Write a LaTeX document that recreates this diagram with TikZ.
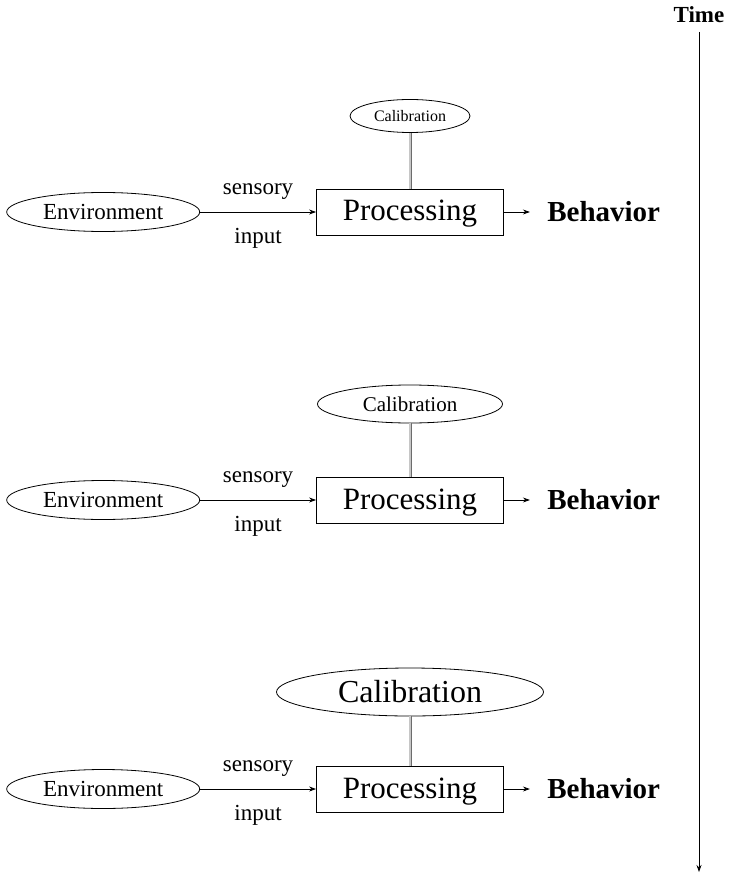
\documentclass[tikz,border=0pt]{standalone}
\usepackage{fontspec}
\setmainfont{Liberation Serif}
\usetikzlibrary{shapes.geometric,arrows.meta,positioning}

\tikzset{
  envnode/.style={ellipse, draw, inner sep=0pt, minimum width=193pt, minimum height=39pt, font=\fontsize{23}{23}\selectfont},
  procnode/.style={rectangle, draw, inner sep=0pt, minimum width=187pt, minimum height=46pt, text height=23pt, text depth=5pt, font=\fontsize{31}{31}\selectfont},
  calnode/.style={ellipse, draw, inner sep=0pt},
  behnode/.style={inner xsep=17pt, font=\fontsize{29}{29}\selectfont\bfseries},
  labnode/.style={font=\fontsize{23}{23}\selectfont},
  flow/.style={-{Stealth[length=7pt,width=5pt]}},
  link/.style={draw=gray!85!black, double=gray!45, double distance=1.2pt, line width=0.9pt},
}

\begin{document}
\begin{tikzpicture}[x=1pt, y=-1pt, line width=0.8pt]
\useasboundingbox (0,0) rectangle (737,874);

% three stages, calibration grows over time
\foreach \n/\y/\cy/\cw/\ch/\cf in {1/212/116/120/33/16, 2/500/404/185/38/21, 3/789/692/267/48/32}{
  \node (proc\n) [procnode] at (410,\y) {Processing};
  \node (env\n) [envnode, left=116pt of proc\n] {Environment};
  \node (beh\n) [behnode, right=26pt of proc\n] {Behavior};
  \node (cal\n) [calnode, minimum width=\cw pt, minimum height=\ch pt, font=\fontsize{\cf}{\cf}\selectfont] at (410,\cy) {Calibration};

  \draw [flow] (env\n) -- node[labnode, above=9pt] {sensory} node[labnode, below=13pt] {input} (proc\n);
  \draw [flow] (proc\n) -- (beh\n);
  \draw [link] (cal\n) -- (proc\n);
}

% time axis
\node (time) [font=\fontsize{23}{23}\selectfont\bfseries] at (699,15) {Time};
\coordinate (tend) at (699,872);
\draw [flow, shorten <=5pt] (time) -- (tend);
\end{tikzpicture}
\end{document}
